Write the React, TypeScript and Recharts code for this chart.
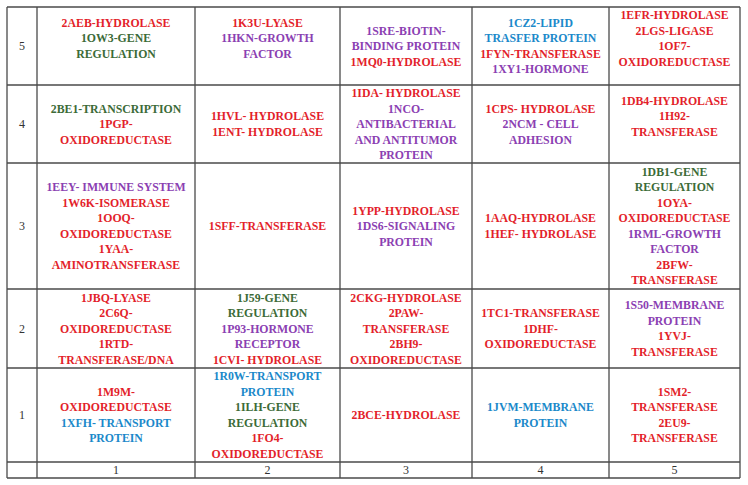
import React from 'react';
import { ComposedChart, Scatter, XAxis, YAxis, ReferenceLine } from 'recharts';

type Kind = 'enzyme' | 'gene' | 'signal' | 'transport' | 'blank';
type Line = [string, Kind];

// Axis labels
const colLabels = ['1', '2', '3', '4', '5'];
const rowLabels = ['1', '2', '3', '4', '5'];

// Cell contents, one array per row (columns 1..5)
const row5: Line[][] = [
  [['2AEB-HYDROLASE', 'enzyme'], ['1OW3-GENE', 'gene'], ['REGULATION', 'gene'], ['', 'blank']],
  [['1K3U-LYASE', 'enzyme'], ['1HKN-GROWTH', 'signal'], ['FACTOR', 'signal'], ['', 'blank']],
  [['1SRE-BIOTIN-', 'signal'], ['BINDING PROTEIN', 'signal'], ['1MQ0-HYDROLASE', 'enzyme']],
  [['1CZ2-LIPID', 'transport'], ['TRASFER PROTEIN', 'transport'], ['1FYN-TRANSFERASE', 'enzyme'], ['1XY1-HORMONE', 'signal']],
  [['1EFR-HYDROLASE', 'enzyme'], ['2LGS-LIGASE', 'enzyme'], ['1OF7-', 'enzyme'], ['OXIDOREDUCTASE', 'enzyme'], ['', 'blank']],
];

const row4: Line[][] = [
  [['2BE1-TRANSCRIPTION', 'gene'], ['1PGP-', 'enzyme'], ['OXIDOREDUCTASE', 'enzyme']],
  [['1HVL- HYDROLASE', 'enzyme'], ['1ENT- HYDROLASE', 'enzyme']],
  [['1IDA- HYDROLASE', 'enzyme'], ['1NCO-', 'signal'], ['ANTIBACTERIAL', 'signal'], ['AND ANTITUMOR', 'signal'], ['PROTEIN', 'signal']],
  [['1CPS- HYDROLASE', 'enzyme'], ['2NCM - CELL', 'signal'], ['ADHESION', 'signal']],
  [['1DB4-HYDROLASE', 'enzyme'], ['1H92-', 'enzyme'], ['TRANSFERASE', 'enzyme'], ['', 'blank']],
];

const row3: Line[][] = [
  [['1EEY- IMMUNE SYSTEM', 'signal'], ['1W6K-ISOMERASE', 'enzyme'], ['1OOQ-', 'enzyme'], ['OXIDOREDUCTASE', 'enzyme'], ['1YAA-', 'enzyme'], ['AMINOTRANSFERASE', 'enzyme']],
  [['1SFF-TRANSFERASE', 'enzyme']],
  [['1YPP-HYDROLASE', 'enzyme'], ['1DS6-SIGNALING', 'signal'], ['PROTEIN', 'signal']],
  [['1AAQ-HYDROLASE', 'enzyme'], ['1HEF- HYDROLASE', 'enzyme']],
  [['1DB1-GENE', 'gene'], ['REGULATION', 'gene'], ['1OYA-', 'enzyme'], ['OXIDOREDUCTASE', 'enzyme'], ['1RML-GROWTH', 'signal'], ['FACTOR', 'signal'], ['2BFW-', 'enzyme'], ['TRANSFERASE', 'enzyme']],
];

const row2: Line[][] = [
  [['1JBQ-LYASE', 'enzyme'], ['2C6Q-', 'enzyme'], ['OXIDOREDUCTASE', 'enzyme'], ['1RTD-', 'enzyme'], ['TRANSFERASE/DNA', 'enzyme']],
  [['1J59-GENE', 'gene'], ['REGULATION', 'gene'], ['1P93-HORMONE', 'signal'], ['RECEPTOR', 'signal'], ['1CVI- HYDROLASE', 'enzyme']],
  [['2CKG-HYDROLASE', 'enzyme'], ['2PAW-', 'enzyme'], ['TRANSFERASE', 'enzyme'], ['2BH9-', 'enzyme'], ['OXIDOREDUCTASE', 'enzyme']],
  [['1TC1-TRANSFERASE', 'enzyme'], ['1DHF-', 'enzyme'], ['OXIDOREDUCTASE', 'enzyme']],
  [['1S50-MEMBRANE', 'signal'], ['PROTEIN', 'signal'], ['1YVJ-', 'enzyme'], ['TRANSFERASE', 'enzyme']],
];

const row1: Line[][] = [
  [['1M9M-', 'enzyme'], ['OXIDOREDUCTASE', 'enzyme'], ['1XFH- TRANSPORT', 'transport'], ['PROTEIN', 'transport']],
  [['1R0W-TRANSPORT', 'transport'], ['PROTEIN', 'transport'], ['1ILH-GENE', 'gene'], ['REGULATION', 'gene'], ['1FO4-', 'enzyme'], ['OXIDOREDUCTASE', 'enzyme']],
  [['2BCE-HYDROLASE', 'enzyme']],
  [['1JVM-MEMBRANE', 'transport'], ['PROTEIN', 'transport']],
  [['1SM2-', 'enzyme'], ['TRANSFERASE', 'enzyme'], ['2EU9-', 'enzyme'], ['TRANSFERASE', 'enzyme']],
];

// ---- layout / style (not data) ----
const KIND_COLORS: Record<Kind, string> = {
  enzyme: '#e31f2b',
  gene: '#3c6b37',
  signal: '#8b40b2',
  transport: '#1b89ca',
  blank: '#000',
};
const COL_WIDTHS = [158, 145, 132, 137, 131];
const ROW_HEIGHTS = [94, 79, 126, 78, 78]; // bottom (row 1) to top (row 5)
const LABEL_COL = 30;
const LABEL_ROW = 16;
const LINE_H = 15.5;
const FONT = '"Liberation Serif", "Times New Roman", serif';
const GRID = '#4a4a4a';

const cumulative = (arr: number[]) => arr.reduce<number[]>((acc, v) => [...acc, acc[acc.length - 1] + v], [0]);
const colBounds = cumulative(COL_WIDTHS);
const rowBounds = cumulative(ROW_HEIGHTS);
const totalW = colBounds[colBounds.length - 1];
const totalH = rowBounds[rowBounds.length - 1];
const colCenters = COL_WIDTHS.map((_, i) => (colBounds[i] + colBounds[i + 1]) / 2);
const rowCenters = ROW_HEIGHTS.map((_, i) => (rowBounds[i] + rowBounds[i + 1]) / 2);

const allRows = [row1, row2, row3, row4, row5];
const cells = allRows.flatMap((row, r) =>
  row.map((lines, c) => ({ x: colCenters[c], y: rowCenters[r], lines }))
);

const CellText = (props: any) => {
  const { cx, cy, payload } = props;
  const lines: Line[] = payload.lines;
  const n = lines.length;
  return (
    <g>
      {lines.map((ln, i) => (
        <text
          key={i}
          x={cx}
          y={cy + (i - (n - 1) / 2) * LINE_H + 4.2}
          textAnchor="middle"
          fill={KIND_COLORS[ln[1]]}
          fontFamily={FONT}
          fontWeight="bold"
          fontSize={11.8}
        >
          {ln[0]}
        </text>
      ))}
    </g>
  );
};

const XTick = (props: any) => {
  const { x, y, payload } = props;
  const idx = colCenters.indexOf(payload.value);
  return (
    <text x={x} y={y + 12} textAnchor="middle" fill="#333" fontFamily={FONT} fontSize={12}>
      {colLabels[idx]}
    </text>
  );
};

const YTick = (props: any) => {
  const { x, y, payload } = props;
  const idx = rowCenters.indexOf(payload.value);
  return (
    <text x={x - LABEL_COL / 2} y={y + 4} textAnchor="middle" fill="#333" fontFamily={FONT} fontSize={12}>
      {rowLabels[idx]}
    </text>
  );
};

export default function App() {
  return (
    <div style={{ position: 'absolute', left: 0, top: 0, width: 748, height: 485, background: '#fff' }}>
      <ComposedChart
        width={748}
        height={485}
        data={cells}
        margin={{ top: 7, right: 8, bottom: 7, left: 7 }}
      >
        <XAxis
          type="number"
          dataKey="x"
          domain={[0, totalW]}
          ticks={colCenters}
          tick={<XTick />}
          tickLine={false}
          axisLine={false}
          tickSize={0}
          tickMargin={0}
          height={LABEL_ROW}
          interval={0}
          allowDataOverflow
        />
        <YAxis
          type="number"
          dataKey="y"
          domain={[0, totalH]}
          ticks={rowCenters}
          tick={<YTick />}
          tickLine={false}
          axisLine={false}
          tickSize={0}
          tickMargin={0}
          width={LABEL_COL}
          interval={0}
          allowDataOverflow
        />
        {[-LABEL_COL, ...colBounds].map((b) => (
          <ReferenceLine
            key={'v' + b}
            segment={[{ x: b, y: -LABEL_ROW }, { x: b, y: totalH }]}
            stroke={GRID}
            strokeWidth={1.3}
            ifOverflow="visible"
          />
        ))}
        {[-LABEL_ROW, ...rowBounds].map((b) => (
          <ReferenceLine
            key={'h' + b}
            segment={[{ x: -LABEL_COL, y: b }, { x: totalW, y: b }]}
            stroke={GRID}
            strokeWidth={1.3}
            ifOverflow="visible"
          />
        ))}
        <Scatter dataKey="y" shape={<CellText />} isAnimationActive={false} />
      </ComposedChart>
    </div>
  );
}
